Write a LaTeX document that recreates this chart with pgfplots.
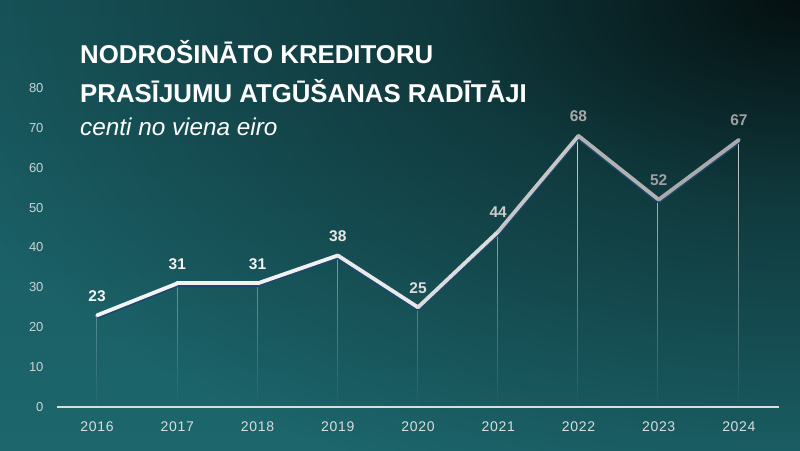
\documentclass[border=0pt]{standalone}
\usepackage{fontspec}
\setmainfont{Liberation Sans}
\usepackage{pgfplots}
\pgfplotsset{compat=1.18}
\usepackage{pgfplotstable}
\usetikzlibrary{fadings}

% background
\definecolor{bgBot}{RGB}{28,102,108}
\definecolor{bgTop}{RGB}{24,88,94}
\definecolor{bgDark}{RGB}{5,16,17}
\pgfdeclareradialshading{cornerfadeS}{\pgfpoint{0bp}{0bp}}{color(0bp)=(white); color(10bp)=(white!45!black); color(25bp)=(black); color(50bp)=(black)}
\pgfdeclarefading{cornerfade}{\pgfuseshading{cornerfadeS}}

% labels
\definecolor{labA}{RGB}{244,244,244}
\definecolor{labB}{RGB}{232,232,232}
\definecolor{labC}{RGB}{220,220,220}
\definecolor{labD}{RGB}{205,205,205}
\definecolor{labE}{RGB}{168,168,168}
\definecolor{labF}{RGB}{160,160,160}
\definecolor{shadowc}{RGB}{28,72,112}
\definecolor{tickc}{RGB}{200,212,214}
\definecolor{yearc}{RGB}{214,222,222}

\pgfplotstableread{
year val
2016 23
2017 31
2018 31
2019 38
2020 25
2021 44
2022 68
2023 52
2024 67
}\recov

\pgfplotsset{vlabel/.style={draw=none, mark=none, nodes near coords,
    every node near coord/.append style={text=#1, anchor=base, yshift=14pt,
        font=\bfseries\fontsize{15.5}{18}\selectfont}}}

\begin{document}
\begin{tikzpicture}[x=1pt,y=1pt]
\shade[bottom color=bgBot, top color=bgTop] (0,0) rectangle (800,450);
\fill[bgDark, path fading=cornerfade] (800,450) ellipse (900 and 520);

\node[anchor=base west, inner sep=0, text=white, font=\bfseries\fontsize{25.8}{28}\selectfont] at (80,386) {NODROŠINĀTO KREDITORU};
\node[anchor=base west, inner sep=0, text=white, font=\bfseries\fontsize{25.8}{28}\selectfont] at (80,347) {PRASĪJUMU ATGŪŠANAS RADĪTĀJI};
\node[anchor=base west, inner sep=0, text=white, font=\itshape\fontsize{24.3}{28}\selectfont] at (80,314) {centi no viena eiro};

\begin{axis}[
    at={(57pt,43pt)}, anchor=south west,
    width=722pt, height=319pt, scale only axis,
    xmin=2015.5, xmax=2024.5, ymin=0, ymax=80,
    clip=false,
    axis x line*=bottom, axis y line*=left,
    x axis line style={draw=yearc, line width=1.3pt},
    y axis line style={draw=none},
    major tick length=0pt,
    xtick={2016,2017,2018,2019,2020,2021,2022,2023,2024},
    xticklabels={2016,2017,2018,2019,2020,2021,2022,2023,2024},
    ytick={0,10,...,80},
    point meta min=2016, point meta max=2024,
    colormap={lc}{rgb255(0cm)=(245,245,245); rgb255(3cm)=(240,240,240); rgb255(5cm)=(214,214,214); rgb255(6cm)=(182,182,182); rgb255(8cm)=(166,166,166)},
    /pgf/number format/assume math mode=true,
    xticklabel style={text=yearc, anchor=center, yshift=-20pt,
        font=\fontsize{14}{16}\selectfont\addfontfeature{LetterSpace=5}},
    yticklabel style={text=tickc, xshift=-10pt, font=\fontsize{13}{15}\selectfont},
  ]
  % drop lines
  \addplot[ycomb, mark=none, draw=white, opacity=0.8, line width=0.9pt, path fading=south]
    table[x=year, y=val]{\recov};
  % shadow under the line
  \addplot[mark=none, draw=shadowc, line width=3.8pt, line join=round, yshift=-1.8pt]
    table[x=year, y=val]{\recov};
  % line, white to grey
  \addplot[mesh, point meta=x, mark=none, line width=3.8pt, line cap=round, line join=round]
    table[x=year, y=val]{\recov};
  % value labels
  \addplot[vlabel=labA] coordinates {(2016,23) (2017,31) (2018,31)};
  \addplot[vlabel=labB] coordinates {(2019,38)};
  \addplot[vlabel=labC] coordinates {(2020,25)};
  \addplot[vlabel=labD] coordinates {(2021,44)};
  \addplot[vlabel=labE] coordinates {(2022,68)};
  \addplot[vlabel=labF] coordinates {(2023,52) (2024,67)};
\end{axis}
\pgfresetboundingbox
\path (0,0) rectangle (800,450);
\end{tikzpicture}
\end{document}
